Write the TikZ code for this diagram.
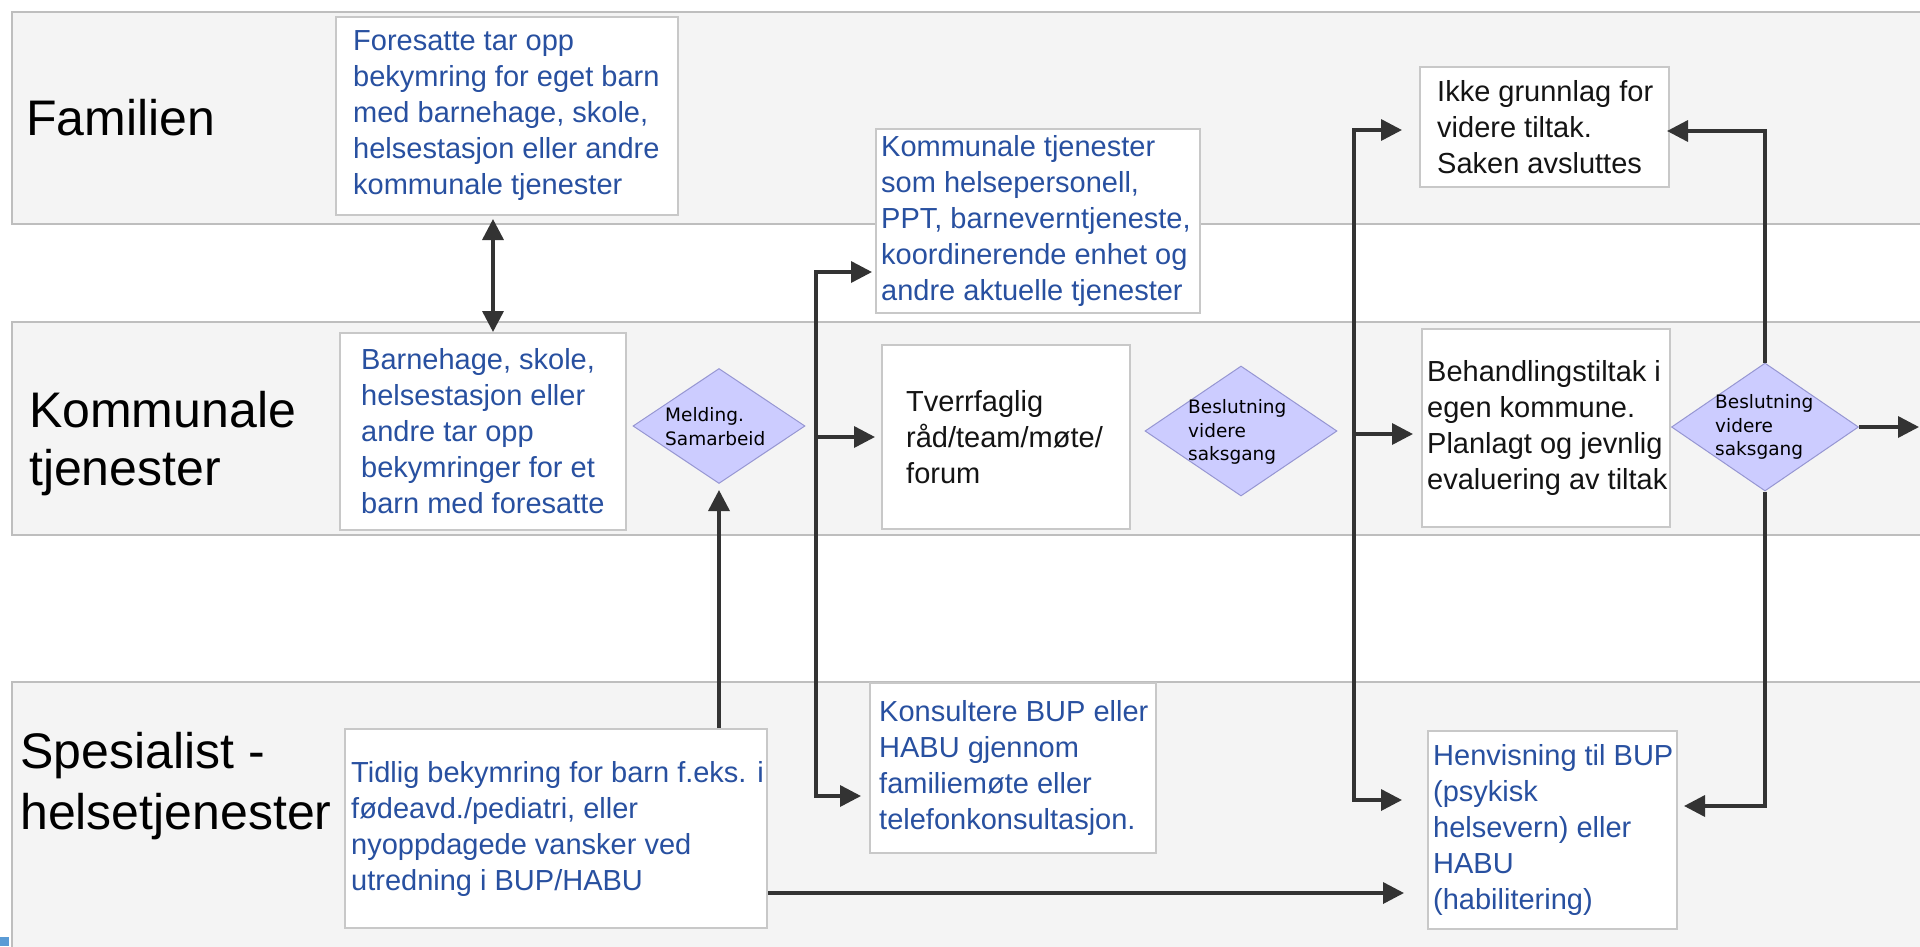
\documentclass[tikz,border=0pt]{standalone}
\usepackage{fontspec}
\setmainfont{Liberation Sans}
\newfontfamily\dfont{DejaVu Sans}
\usetikzlibrary{arrows.meta,shapes.geometric,calc}
\definecolor{lanefill}{RGB}{244,244,244}
\definecolor{laneline}{RGB}{190,190,190}
\definecolor{boxline}{RGB}{200,200,200}
\definecolor{dfill}{RGB}{204,204,255}
\definecolor{dline}{RGB}{150,150,210}
\definecolor{arrowc}{RGB}{51,51,51}
\definecolor{bluetxt}{RGB}{40,80,160}
\definecolor{blacktxt}{RGB}{20,20,20}
\definecolor{cornerblue}{RGB}{91,155,213}
\begin{document}
\begin{tikzpicture}[x=1pt,y=-1pt,
 lane/.style={fill=lanefill,draw=laneline,line width=2.5pt},
 box/.style={draw=boxline,fill=white,line width=2pt,inner sep=0pt,anchor=north west},
 dia/.style={diamond,draw=dline,fill=dfill,line width=1pt,inner sep=0pt},
 lbl/.style={anchor=base west,inner sep=0pt,font=\fontsize{50}{58}\selectfont,text=black},
 btxt/.style={anchor=west,inner sep=0pt,align=left,font=\fontsize{29}{36}\selectfont,text=bluetxt},
 ktxt/.style={btxt,text=blacktxt},
 dtxt/.style={anchor=west,inner sep=0pt,align=left,font=\dfont\fontsize{18.5}{23.5}\selectfont,text=black},
 conn/.style={draw=arrowc,line width=3.5pt},
 arr/.style={conn,-{Triangle[length=21pt,width=21pt]}},
 darr/.style={conn,{Triangle[length=21pt,width=21pt]}-{Triangle[length=21pt,width=21pt]}},
]
\useasboundingbox (0,0) rectangle (1920,946);
\clip (0,0) rectangle (1920,946);
\fill[white] (0,0) rectangle (1920,946);

% lanes
\draw[lane] (12,12) rectangle (1940,224);
\draw[lane] (12,322) rectangle (1940,535);
\draw[lane] (12,682) rectangle (1940,970);
\fill[cornerblue] (0,937) rectangle (9,946);

% lane labels
\node[lbl] (l1) at (26,135) {Familien};
\node[lbl] (l2a) at (29,427) {Kommunale};
\node[lbl] (l2b) at (29,485) {tjenester};
\node[lbl] (l3a) at (20,768) {Spesialist -};
\node[lbl] (l3b) at (20,829) {helsetjenester};

% boxes
\node[box, minimum width=342pt, minimum height=198pt] (fores) at (335,16) {};
\node[box, minimum width=286pt, minimum height=197pt] (barn) at (339,332) {};
\node[box, minimum width=324pt, minimum height=184pt] (komtj) at (875,128) {};
\node[box, minimum width=248pt, minimum height=184pt] (tverr) at (881,344) {};
\node[box, minimum width=249pt, minimum height=120pt] (ikke) at (1419,66) {};
\node[box, minimum width=248pt, minimum height=198pt] (behand) at (1421,328) {};
\node[box, minimum width=422pt, minimum height=199pt] (tidl) at (344,728) {};
\node[box, minimum width=286pt, minimum height=170pt] (kons) at (869,682) {};
\node[box, minimum width=249pt, minimum height=198pt] (henv) at (1427,730) {};

% diamonds
\node[dia, minimum width=172pt, minimum height=115pt] (meld) at (719,426) {};
\node[dia, minimum width=192pt, minimum height=130pt] (besl1) at (1241,431) {};
\node[dia, minimum width=187pt, minimum height=128pt] (besl2) at (1765,427) {};

% box texts
\node[btxt] (fores-t) at ([xshift=18pt]fores.west) {Foresatte tar opp\\bekymring for eget barn\\med barnehage, skole,\\helsestasjon eller andre\\kommunale tjenester};
\node[btxt] (barn-t) at ([xshift=22pt]barn.west) {Barnehage, skole,\\helsestasjon eller\\andre tar opp\\bekymringer for et\\barn med foresatte};
\node[btxt] (komtj-t) at ([xshift=6pt]komtj.west) {Kommunale tjenester\\som helsepersonell,\\PPT, barneverntjeneste,\\koordinerende enhet og\\andre aktuelle tjenester};
\node[ktxt] (tverr-t) at ([xshift=25pt]tverr.west) {Tverrfaglig\\råd/team/møte/\\forum};
\node[ktxt] (ikke-t) at ([xshift=18pt]ikke.west) {Ikke grunnlag for\\videre tiltak.\\Saken avsluttes};
\node[ktxt] (behand-t) at ([xshift=6pt]behand.west) {Behandlingstiltak i\\egen kommune.\\Planlagt og jevnlig\\evaluering av tiltak};
\node[btxt] (tidl-t) at ([xshift=7pt]tidl.west) {Tidlig bekymring for barn f.eks. i\\fødeavd./pediatri, eller\\nyoppdagede vansker ved\\utredning i BUP/HABU};
\node[btxt] (kons-t) at ([xshift=10pt]kons.west) {Konsultere BUP eller\\HABU gjennom\\familiemøte eller\\telefonkonsultasjon.};
\node[btxt] (henv-t) at ([xshift=6pt]henv.west) {Henvisning til BUP\\(psykisk\\helsevern) eller\\HABU\\(habilitering)};

% diamond texts
\node[dtxt] (meld-t) at (665,426.5) {Melding.\\Samarbeid};
\node[dtxt] (besl1-t) at (1188,432) {Beslutning\\videre\\saksgang};
\node[dtxt] (besl2-t) at (1715,427) {Beslutning\\videre\\saksgang};

% connectors
\draw[darr, shorten <=3pt] ([xshift=-14pt]fores.south) -- ([xshift=-14pt]fores.south |- barn.north);
\draw[arr, shorten >=6pt] (tidl.north -| meld.south) -- (meld.south);

\coordinate (ta) at (816,272);
\coordinate (tb) at (816,796);
\draw[arr, shorten >=3pt] (tb) -- (ta) -- (ta -| komtj.west);
\draw[arr, shorten >=6pt] (tverr.west -| ta) -- (tverr.west);
\draw[arr, shorten >=8pt] (ta) -- (tb) -- (tb -| kons.west);

\coordinate (tc) at (1354,130);
\coordinate (td) at (1354,800);
\draw[arr, shorten >=17pt] (td) -- (tc) -- (tc -| ikke.west);
\draw[arr, shorten >=8pt] ([yshift=-6pt]behand.west -| tc) -- ([yshift=-6pt]behand.west);
\draw[arr, shorten >=25pt] (tc) -- (td) -- (td -| henv.west);

\draw[arr, shorten >=-3pt] (besl2.north) |- ([yshift=-4pt]ikke.east);
\draw[arr, shorten >=6pt] (besl2.south) |- ([yshift=24pt]henv.east);
\draw[arr] (besl2.east) -- ++(60,0);

\draw[arr, shorten >=23pt] ([yshift=-64.5pt]tidl.east) -- ([yshift=-64.5pt]tidl.east -| henv.west);
\end{tikzpicture}
\end{document}
